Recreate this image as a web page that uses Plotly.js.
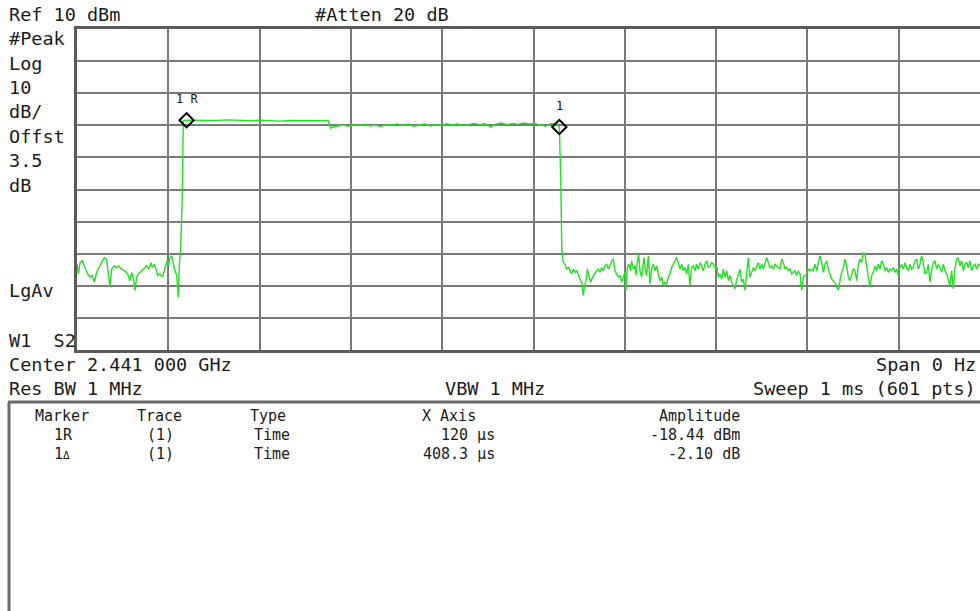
<!DOCTYPE html>
<html>
<head>
<meta charset="utf-8">
<script src="https://cdn.plot.ly/plotly-3.0.1.min.js"></script>
<style>
  html, body { margin: 0; padding: 0; background: #ffffff; }
  #chart { width: 980px; height: 611px; }
</style>
</head>
<body>
<div id="chart"></div>
<script>
// ---- Trace data (time in microseconds, amplitude in dBm) ----
const preTimeUs = [0,1.5,3.3,5.8,8.8,11.7,14.2,16.8,19.0,21.5,24.1,27.0,30.0,32.5,34.3,36.1,38.0,40.9,43.4,45.3,48.9,52.6,55.5,58.0,59.9,62.1,63.5,65.4,67.2,70.8,74.5,76.3,78.9,81.1,82.5,84.7,86.5,88.4,90.9,93.5,95.7,97.1,98.6,100.0,101.9,103.7,105.5,107.3,109.2,111.0,112.1,113.5,115.3];
const preDbm    = [-63.3,-66.3,-62.8,-62.2,-64.3,-66.3,-67.3,-66.8,-68.9,-65.8,-64.3,-62.8,-61.2,-61.7,-65.3,-70.4,-64.8,-63.8,-64.3,-63.8,-64.8,-65.3,-66.3,-68.4,-65.8,-68.4,-71.4,-67.3,-66.3,-65.3,-64.3,-63.8,-64.8,-62.8,-64.3,-63.3,-64.8,-66.8,-66.3,-67.3,-65.3,-63.3,-62.2,-63.8,-61.2,-60.7,-63.3,-65.3,-66.8,-73.5,-63.3,-58.5,-42.0];

const burstTimeUs = [116.4,120,128,140,152,165,178,190,200,212,222,233,245,255,265,275,277.8,280,285,291,297,303,309,315,321,327,333,339,345,351,357,363,369,375,381,387,393,399,405,411,417,423,429,435,441,447,453,459,465,471,477,483,489,495,501,507,513,519,525,528.3];
const burstDbm    = [-18.6,-18.44,-18.5,-18.4,-18.5,-18.3,-18.5,-18.6,-18.4,-18.5,-18.7,-18.5,-18.6,-18.5,-18.6,-18.5,-20.9,-20.6,-20.2,-19.9,-20.3,-19.8,-20.1,-19.7,-20.2,-19.9,-20.4,-19.8,-20.0,-19.6,-20.1,-19.7,-20.3,-19.9,-19.6,-20.2,-19.8,-20.0,-19.5,-19.9,-19.6,-20.1,-19.7,-19.4,-19.8,-19.5,-20.6,-19.6,-19.3,-19.8,-19.4,-19.7,-19.3,-19.6,-19.4,-19.9,-20.3,-19.5,-19.4,-20.54];

const postTimeUs = [529.9,531.0,532.7,534.5,536.3,538.2,540.0,541.8,543.6,545.5,547.3,549.1,550.9,552.8,554.6,555.7,557.5,559.0,561.2,562.6,564.8,566.6,569.2,571.0,572.8,574.7,576.5,578.3,580.1,582.0,583.8,585.6,587.4,589.3,591.1,592.9,594.7,596.6,598.4,600.2,601.3,602.8,604.6,606.4,607.5,609.4,611.2,612.3,613.7,615.2,616.6,618.5,619.6,621.0,622.5,623.9,625.8,627.6,629.4,631.3,633.1,634.9,636.7,638.6,640.4,642.2,644.0,645.9,647.7,649.5,651.3,653.2,655.0,656.8,658.6,660.5,662.3,664.1,665.9,667.8,669.6,671.4,673.2,675.1,676.9,678.7,680.5,682.4,684.2,686.0,687.8,689.7,691.5,693.3,695.1,697.0,698.8,700.6,702.4,704.3,706.1,707.9,709.7,711.6,713.4,715.2,717.0,718.9,720.7,722.5,724.3,726.2,728.0,729.8,731.6,733.5,735.3,737.1,738.9,740.8,742.6,744.4,746.2,748.1,749.9,751.8,753.6,755.4,757.2,759.1,760.9,762.7,764.5,766.4,768.2,770.0,771.8,773.7,775.5,777.3,779.1,781.0,782.8,784.6,786.4,788.3,790.1,791.9,793.7,795.6,797.4,799.2,801.0,802.9,804.7,806.5,808.3,810.2,812.0,813.8,815.6,817.5,819.3,821.1,822.9,824.8,826.6,828.4,830.2,832.1,833.9,835.7,837.5,839.4,841.2,843.0,844.8,846.7,848.5,850.3,852.1,854.0,855.8,857.6,859.4,861.3,863.1,864.9,866.7,868.6,870.4,872.2,874.0,875.9,877.7,879.5,881.3,883.2,885.0,886.8,888.6,890.5,892.3,894.1,895.9,897.8,899.6,901.4,903.2,905.1,906.9,908.7,910.5,912.4,914.2,916.0,917.8,919.7,921.5,923.3,925.1,927.0,928.8,930.6,932.4,934.3,936.1,937.9,939.7,941.6,943.4,945.2,947.0,948.9,950.7,952.5,954.3,956.2,958.0,959.8,961.6,963.5,965.3,967.1,968.9,970.8,972.6,974.4,976.2,978.1,979.9,981.7,983.5,985.4,987.2,990,1000];
const postDbm    = [-37.0,-58.8,-62.8,-63.3,-64.8,-64.3,-65.3,-66.3,-64.8,-65.8,-65.3,-66.8,-67.9,-68.9,-73.0,-70.4,-68.4,-64.8,-67.3,-68.9,-67.3,-66.3,-65.3,-64.8,-65.8,-64.3,-65.3,-63.8,-63.3,-64.8,-63.8,-62.2,-61.7,-65.3,-66.3,-67.3,-66.8,-68.9,-67.3,-65.8,-71.4,-64.3,-63.3,-65.3,-62.2,-64.8,-63.8,-66.8,-62.8,-60.2,-65.3,-67.3,-64.3,-61.2,-64.8,-66.8,-60.7,-69.4,-64.8,-63.3,-65.3,-63.8,-66.3,-68.4,-67.3,-69.9,-68.9,-69.4,-67.3,-66.3,-64.3,-63.3,-62.2,-61.2,-62.8,-64.8,-63.3,-65.3,-64.3,-66.3,-63.3,-69.9,-64.3,-63.8,-65.3,-63.3,-64.8,-62.8,-63.8,-65.3,-63.3,-62.2,-64.3,-63.8,-62.8,-63.3,-64.3,-63.8,-67.3,-66.3,-67.9,-64.8,-67.3,-65.3,-68.4,-66.8,-68.9,-69.9,-70.9,-68.4,-66.8,-64.8,-68.9,-67.9,-71.4,-66.3,-61.2,-67.3,-65.8,-64.3,-65.3,-63.8,-62.8,-64.8,-63.3,-64.8,-63.3,-61.2,-62.8,-64.3,-63.8,-64.8,-63.3,-63.8,-64.3,-64.8,-61.7,-62.8,-64.8,-64.3,-65.3,-64.8,-66.3,-65.8,-65.3,-66.8,-65.3,-66.3,-71.4,-67.3,-66.8,-66.3,-64.8,-65.3,-64.8,-65.3,-63.3,-65.3,-62.8,-60.7,-62.8,-65.8,-63.3,-62.2,-64.8,-66.3,-67.9,-68.4,-68.9,-70.4,-71.4,-68.4,-65.8,-64.3,-61.7,-63.8,-67.3,-68.4,-66.8,-64.8,-65.3,-68.4,-63.3,-61.7,-62.8,-59.7,-60.2,-64.3,-67.3,-70.4,-66.8,-65.8,-63.8,-65.3,-63.3,-64.8,-62.2,-63.3,-65.3,-64.3,-65.8,-64.8,-65.3,-64.3,-65.8,-64.8,-66.8,-64.3,-63.3,-64.8,-62.8,-64.3,-65.3,-63.3,-64.8,-64.3,-62.2,-61.7,-64.8,-63.3,-60.7,-62.8,-66.3,-65.8,-63.3,-68.9,-64.8,-62.8,-62.2,-64.8,-63.3,-64.3,-65.8,-63.3,-65.3,-66.3,-68.4,-69.9,-65.3,-70.9,-64.8,-61.7,-61.2,-63.8,-62.2,-65.3,-63.3,-62.8,-64.3,-62.2,-65.3,-63.8,-63.3,-64.8,-63.3,-64.0,-63.5];

// ---- Markers ----
const markerNames   = ["1 R", "1"];
const markerTimeUs  = [120, 528.3];
const markerDbm     = [-18.44, -20.54];

// ---- Screen annotations ----
const leftLabels = ["#Peak", "Log", "10", "dB/", "Offst", "3.5", "dB"];
const tableHeaders = ["Marker", "Trace", "Type", "X Axis", "Amplitude"];
const tableRow1 = ["1R", "(1)", "Time", "120 µs", "-18.44 dBm"];
const tableRow2 = ["1<span style='font-size:11px'>Δ</span>", "(1)", "Time", "408.3 µs", "-2.10 dB"];

// ---- Layout helpers (pixel -> paper) ----
const W = 980, H = 611;
const L = 77, T = 29, B = 350;          // plot area edges in px
const PW = W - L, PH = B - T;
const px = x => (x - L) / PW;
const py = y => (B - y) / PH;
const MONO = "DejaVu Sans Mono, Liberation Mono, monospace";

function txt(text, x, y, size, anchor) {
  return { text: text, xref: "paper", yref: "paper", x: px(x), y: py(y),
           xanchor: anchor || "left", yanchor: "middle", showarrow: false,
           font: { family: MONO, size: size, color: "#1a1a1a" } };
}

const annotations = [];
annotations.push(txt("Ref 10 dBm", 7, 15, 18.5));
annotations.push(txt("#Atten 20 dB", 313, 15, 18.5));
const leftY = [38, 63, 87, 111, 136, 160, 185];
leftLabels.forEach((s, i) => annotations.push(txt(s, 7, leftY[i], 18.5)));
annotations.push(txt("LgAv", 7, 290, 18.5));
annotations.push(txt("W1  S2", 7, 340, 18.5));
annotations.push(txt("Center 2.441 000 GHz", 7, 364, 18.5));
annotations.push(txt("Span 0 Hz", 978, 364, 18.5, "right"));
annotations.push(txt("Res BW 1 MHz", 7, 388, 18.5));
annotations.push(txt("VBW 1 MHz", 443, 388, 18.5));
annotations.push(txt("Sweep 1 ms (601 pts)", 978, 388, 18.5, "right"));

const colX = [33, 135, 248, 420, 742];
const colAnchor = ["left", "left", "left", "left", "right"];
const rowX = [52, 145, 252, 497, 742];
const rowAnchor = ["left", "left", "left", "right", "right"];
tableHeaders.forEach((s, i) => annotations.push(txt(s, colX[i], 416, 15, colAnchor[i])));
tableRow1.forEach((s, i) => annotations.push(txt(s, rowX[i], 435, 15, rowAnchor[i])));
tableRow2.forEach((s, i) => annotations.push(txt(s, rowX[i], 454, 15, rowAnchor[i])));

// marker labels above the diamonds
markerNames.forEach((s, i) => annotations.push({
  text: s, x: markerTimeUs[i], y: markerDbm[i], xref: "x", yref: "y",
  xanchor: "center", yanchor: "bottom", yshift: 12, showarrow: false,
  font: { family: MONO, size: 12, color: "#111" }
}));

const shapes = [
  { type: "line", xref: "paper", yref: "paper", x0: px(8), x1: px(985), y0: py(402), y1: py(402),
    line: { color: "#6a6a6a", width: 3 } },
  { type: "line", xref: "paper", yref: "paper", x0: px(9), x1: px(9), y0: py(402), y1: py(615),
    line: { color: "#6a6a6a", width: 3 } }
];

const traceT = preTimeUs.concat(burstTimeUs, postTimeUs);
const traceV = preDbm.concat(burstDbm, postDbm);

const data = [
  { type: "scatter", mode: "lines", x: traceT, y: traceV,
    line: { color: "#22e022", width: 1.4 }, hoverinfo: "skip", cliponaxis: true },
  { type: "scatter", mode: "markers", x: markerTimeUs, y: markerDbm,
    marker: { symbol: "diamond-open", size: 11, color: "#000", line: { width: 2, color: "#000" } },
    hoverinfo: "skip" }
];

const layout = {
  width: W, height: H,
  margin: { l: L, r: 0, t: T, b: H - B, pad: 0 },
  paper_bgcolor: "#ffffff", plot_bgcolor: "#ffffff",
  showlegend: false,
  xaxis: { range: [0, 1000 * PW / 913], tick0: 0, dtick: 100, showgrid: true,
           gridcolor: "#7a7a7a", gridwidth: 2, zeroline: false, showticklabels: false,
           ticks: "", showline: true, mirror: true, linecolor: "#5a5a5a", linewidth: 3, fixedrange: true },
  yaxis: { range: [-90, 10], tick0: 10, dtick: 10, showgrid: true,
           gridcolor: "#7a7a7a", gridwidth: 2, zeroline: false, showticklabels: false,
           ticks: "", showline: true, mirror: false, linecolor: "#5a5a5a", linewidth: 3, fixedrange: true },
  annotations: annotations,
  shapes: shapes
};

Plotly.newPlot("chart", data, layout, { staticPlot: true, displayModeBar: false });
</script>
</body>
</html>
